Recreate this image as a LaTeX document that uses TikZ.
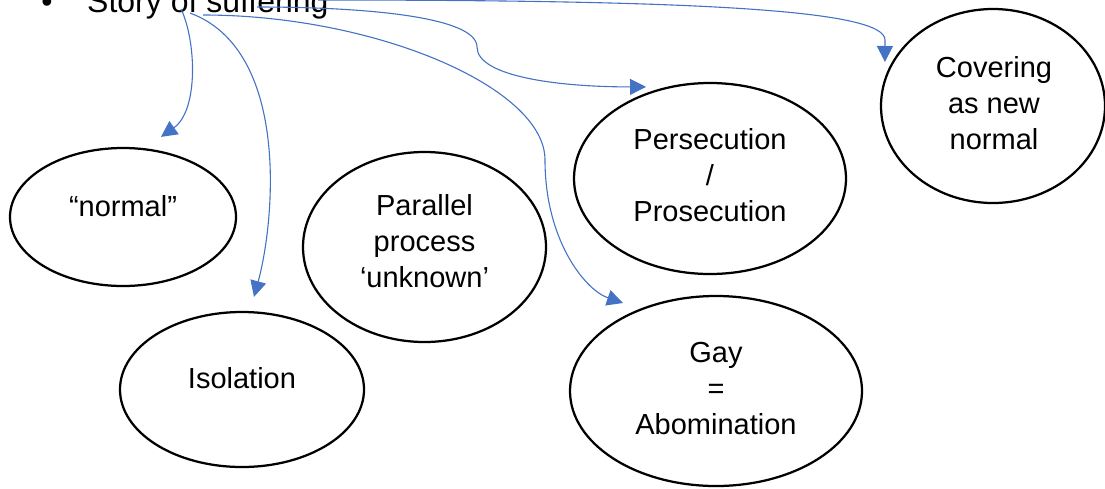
\documentclass[tikz,border=0pt]{standalone}
\usepackage{fontspec}
\setmainfont{Liberation Sans}
\usetikzlibrary{shapes,arrows.meta}
\usetikzlibrary{calc}
\definecolor{linkblue}{HTML}{4472C4}

\begin{document}
\begin{tikzpicture}[%
		x=1pt, y=-1pt,
		bubble/.style={draw, ellipse, line width=2.25pt},
		bubbletext/.style={align=center, font=\fontsize{29}{36}\selectfont},
		link/.style={linkblue, line width=1.1pt, -{Triangle[length=16pt, width=16pt]}}
		]
		% (1105px,488px), y pointing down
		\clip (0,0) rectangle (1105,488);
		%%%%%%%%%%%%%%%
		%    NODES    %
		%%%%%%%%%%%%%%%
		\node[anchor=base, inner sep=0pt, font=\fontsize{32}{38}\selectfont] (dot) at (47,12) {•};
		\node[anchor=base west, inner sep=0pt, font=\fontsize{32}{38}\selectfont] (story) at (87,12) {Story of suffering};
		
		% normal
		\node[bubble, minimum width=226pt, minimum height=138pt] (normal) at (123,217) {};
		\node[bubbletext] (normaltext) at (123,206) {“normal”};
		
		% Isolation
		\node[bubble, minimum width=244pt, minimum height=155pt] (isolation) at (242,389.5) {};
		\node[bubbletext] (isolationtext) at (242,378) {Isolation};
		
		% Parallel process
		\node[bubble, minimum width=243pt, minimum height=190pt] (parallel) at (424.5,247) {};
		\node[bubbletext] (paralleltext) at (424.5,241.5) {Parallel\\process\\‘unknown’};
		
		% Persecution
		\node[bubble, minimum width=272pt, minimum height=191pt] (persecution) at (710,178.5) {};
		\node[bubbletext] (persecutiontext) at (710,175) {Persecution\\/\\Prosecution};
		
		% Gay
		\node[bubble, minimum width=292pt, minimum height=190pt] (gay) at (716,391) {};
		\node[bubbletext] (gaytext) at (716,389) {Gay\\=\\Abomination};
		
		% Covering
		\node[bubble, minimum width=224pt, minimum height=194pt] (covering) at (993,106) {};
		\node[bubbletext] (coveringtext) at (994,103) {Covering\\as new\\normal};
		
		%%%%%%%%%%%%%%%
		% CONNECTIONS %
		%%%%%%%%%%%%%%%
		
		\draw[link] ($(story.base west)+(94,-3)$) .. controls (196,40) and (199,110) .. ($(normal.north)+(38,-10)$);
		
		\draw[link] ($(story.base west)+(103,1)$) .. controls (290,50) and (275,220) .. ($(isolation.north)+(12,-14)$);
		
		\draw[link] ($(story.base west)+(116,3)$) .. controls (374,15) and (545,87) .. (545,160)
		.. controls (545,240) and (585,290) .. ($(gay.center)+(-93,-88)$);
		
		\draw[link] ($(story.base west)+(170,-5)$) .. controls (367,7) and (477,17) .. (477,47)
		.. controls (477,77) and (561,87) .. ($(persecution.north)+(-64,5)$);
		
		% longest one, over the top
		\draw[link] ($(story.base west)+(231,-12)$) .. controls (700,0) and (885,10) .. (885,40) -- ($(covering.west)+(5,-44)$);
		
	\end{tikzpicture}
\end{document}
